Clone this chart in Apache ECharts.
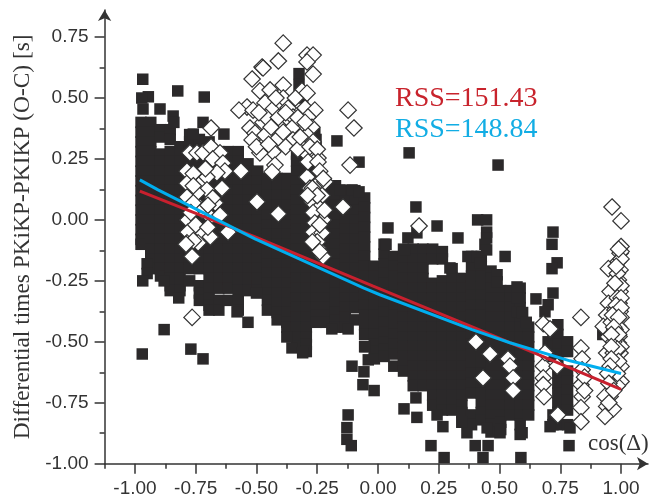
<!DOCTYPE html>
<html>
<head>
<meta charset="utf-8">
<style>html,body{margin:0;padding:0;background:#fff}#c{width:649px;height:500px}</style>
<script src="https://cdn.jsdelivr.net/npm/echarts@6/dist/echarts.min.js"></script>
</head>
<body>
<div id="c"></div>
<script>
const xMajor = [-1,-0.75,-0.5,-0.25,0,0.25,0.5,0.75,1];
const xMinor = [-1.125,-0.875,-0.625,-0.375,-0.125,0.125,0.375,0.625,0.875];
const yMajor = [-1,-0.75,-0.5,-0.25,0,0.25,0.5,0.75];
const yMinor = [-0.875,-0.625,-0.375,-0.125,0.125,0.375,0.625];
const yTitle = 'Differential times PKiKP-PKIKP (O-C) [s]';
const xTitle = 'cos(Δ)';
const rssRed = 'RSS=151.43';
const rssBlue = 'RSS=148.84';

const denseX = [-.975,-.935,-.895,-.855,-.815,-.775,-.735,-.695,-.655,-.615,-.575,-.535,-.495,-.455,-.415,-.375,-.335,-.295,-.255,-.215,-.175,-.135,-.095,-.055,-.015,.025,.065,.105,.145,.185,.225,.265,.305,.345,.385,.425,.465,.505,.545,.585,.62,.70,.72,.74,.78];
const denseY = [
[.40,.36,.32,.28,.24,.20,.16,.12,.08,.04,0,-.04,-.08,-.10],
[.40,.36,.32,.28,.24,.20,.16,.12,.08,.04,0,-.04,-.08,-.12,-.16,-.20],
[.37,.34,.27,.24,.20,.16,.12,.08,.04,0,-.04,-.08,-.12,-.16,-.20,-.23],
[.37,.33,.28,.24,.20,.16,.12,.08,.04,0,-.04,-.08,-.12,-.16,-.20,-.24,-.27,-.29],
[.30,.28,.24,.20,.16,.12,.08,.04,0,-.04,-.08,-.12,-.16,-.20,-.24,-.27,-.29],
[.35,.32,.28,.24,.20,.16,.12,.08,.04,0,-.04,-.08,-.12,-.16,-.20,-.25],
[.33,.29,.24,.20,.16,.12,.08,.04,0,-.04,-.08,-.12,-.16,-.20,-.27,-.30,-.33],
[.32,.28,.24,.20,.16,.12,.08,.04,0,-.04,-.08,-.12,-.16,-.20,-.24,-.28,-.32,-.35,-.37],
[.28,.24,.20,.16,.12,.08,.04,0,-.04,-.08,-.12,-.16,-.20,-.24,-.28,-.33,-.37],
[.28,.24,.20,.16,.12,.08,.04,0,-.04,-.08,-.12,-.16,-.20,-.24,-.28,-.33],
[.28,.24,.20,.16,.12,.08,.04,0,-.04,-.08,-.12,-.16,-.20,-.24,-.27,-.29,-.33,-.37],
[.23,.20,.16,.12,.08,.04,0,-.04,-.08,-.12,-.16,-.20,-.24,-.27,-.29],
[.20,.16,.12,.08,.04,0,-.04,-.08,-.12,-.16,-.20,-.24,-.27,-.29],
[.17,.14,.10,.06,.02,-.02,-.06,-.10,-.14,-.18,-.22,-.26,-.30,-.33,-.37],
[.17,.14,.10,.06,.02,-.02,-.06,-.10,-.14,-.18,-.22,-.26,-.30,-.34,-.38,-.41],
[.17,.14,.10,.06,.02,-.02,-.06,-.10,-.14,-.18,-.22,-.26,-.30,-.34,-.38,-.42,-.44],
[.27,.24,.20,.16,.12,.08,.04,0,-.04,-.08,-.12,-.16,-.20,-.24,-.28,-.32,-.36,-.40,-.44,-.48,-.52],
[.27,.24,.20,.16,.12,.08,.04,0,-.04,-.08,-.12,-.16,-.20,-.24,-.28,-.32,-.36,-.40,-.44,-.48,-.51,-.54],
[.33,.29,.24,.20,.16,.12,.08,.04,0,-.04,-.08,-.12,-.16,-.20,-.24,-.28,-.32,-.36,-.39,-.42],
[.15,.12,.08,.04,0,-.04,-.08,-.12,-.16,-.20,-.24,-.28,-.32,-.36,-.39,-.42],
[.14,.10,.06,.02,-.02,-.06,-.10,-.14,-.18,-.22,-.26,-.30,-.34,-.38,-.41,-.44],
[.12,.08,.04,0,-.04,-.08,-.12,-.16,-.20,-.24,-.28,-.32,-.36,-.40,-.44],
[.12,.08,.04,0,-.04,-.08,-.12,-.16,-.20,-.24,-.28,-.32,-.36,-.41],
[.09,.05,.01,-.03,-.07,-.11,-.15,-.19,-.23,-.27,-.31,-.35,-.39,-.43,-.47,-.52],
[-.19,-.23,-.27,-.31,-.35,-.39,-.43,-.47,-.51,-.54,-.57],
[-.10,-.14,-.18,-.22,-.26,-.30,-.34,-.38,-.42,-.46,-.50,-.53,-.56],
[-.15,-.19,-.23,-.27,-.31,-.35,-.39,-.43,-.47,-.51,-.55,-.60],
[-.12,-.16,-.20,-.24,-.28,-.32,-.36,-.40,-.44,-.48,-.52,-.56,-.59,-.62],
[-.12,-.16,-.20,-.24,-.28,-.32,-.36,-.40,-.44,-.48,-.52,-.56,-.60,-.64,-.68],
[-.12,-.16,-.20,-.24,-.28,-.32,-.36,-.40,-.44,-.48,-.52,-.56,-.60,-.64,-.68],
[-.12,-.16,-.26,-.28,-.32,-.36,-.40,-.44,-.48,-.52,-.56,-.60,-.64,-.68,-.72,-.76],
[-.13,-.16,-.25,-.28,-.32,-.36,-.40,-.44,-.48,-.52,-.56,-.60,-.64,-.68,-.72,-.75,-.78],
[-.20,-.24,-.28,-.32,-.36,-.40,-.44,-.48,-.52,-.56,-.60,-.64,-.68,-.72,-.75,-.78],
[-.24,-.28,-.32,-.36,-.40,-.44,-.48,-.52,-.56,-.60,-.64,-.68,-.72,-.76,-.79,-.83],
[-.15,-.19,-.23,-.27,-.31,-.35,-.39,-.43,-.47,-.51,-.55,-.59,-.63,-.67,-.71,-.80,-.84],
[-.15,-.19,-.23,-.27,-.31,-.35,-.39,-.43,-.47,-.51,-.55,-.59,-.63,-.67,-.71,-.75,-.79,-.82],
[-.21,-.24,-.28,-.32,-.36,-.40,-.44,-.48,-.52,-.56,-.60,-.64,-.68,-.72,-.76,-.80,-.84,-.87],
[-.29,-.32,-.36,-.40,-.44,-.48,-.52,-.56,-.60,-.64,-.68,-.72,-.76,-.80,-.83,-.86],
[-.29,-.32,-.36,-.40,-.44,-.48,-.52,-.56,-.60,-.64,-.68,-.72,-.76,-.80],
[-.28,-.32,-.36,-.40,-.44,-.48,-.52,-.56,-.60,-.64,-.68,-.72,-.76,-.80,-.84,-.88],
[-.44,-.48,-.52,-.56,-.60,-.64,-.68,-.72,-.76,-.80],
[-.50,-.54],
[-.44,-.48,-.52,-.56,-.80,-.84],
[-.43,-.47,-.51,-.55,-.59,-.63,-.67,-.71,-.75,-.79,-.84],
[-.50,-.54,-.62,-.66,-.70,-.74,-.78,-.84]
];
const looseSquares = [
[-.968,.577],[-.945,.505],[-.972,.50],[-.824,.529],[-.715,.504],[-.897,.455],[-.967,.455],[-.843,.426],[-.84,.40],[-.72,.40],[-.634,.352],[-.76,.352],
[-.95,-.18],[-.95,-.22],[-.968,-.25],[-.88,-.25],[-.82,-.32],[-.58,-.377],[-.535,-.42],[-.50,-.30],
[-.77,-.53],[-.72,-.57],[-.88,-.45],[-.97,-.55],
[-.325,.60],[-.325,.555],[-.31,.50],[-.26,.355],[-.169,.324],[-.078,.237],
[-.156,.123],[-.107,.123],[-.078,.115],
[.128,.275],[.494,.225],[.156,.053],[.041,-.033],[.243,-.025],[.329,-.074],[.033,-.10],[.41,0],[.447,0],[.447,-.05],[.447,-.074],[.44,-.10],[.72,-.05],[.716,-.10],[.123,-.074],[.16,-.053],[.11,-.123],[.296,-.197],[.37,-.15],[.407,-.15],[.447,-.123],[.42,-.176],[.49,-.225],[.49,-.254],[.523,-.15],
[.572,-.275],[.572,-.32],[.572,-.377],[.65,-.324],[.72,-.30],[.70,-.348],[.687,-.377],[.737,-.176],[.716,-.20],[.595,-.38],[.61,-.42],
[-.19,-.447],[-.123,-.447],[-.375,-.48],[-.354,-.525],[-.31,-.545],[-.053,-.52],[-.04,-.574],
[-.107,-.60],[-.058,-.623],[-.062,-.676],[-.016,-.70],[-.123,-.80],[-.128,-.852],[-.128,-.90],[-.11,-.926],
[.218,-.926],[.272,-.975],[.40,-.926],[.453,-.926],[.432,-.975],[.588,-.975],[.786,-.926],[.107,-.775],[.156,-.73],[.16,-.81],[.243,-.80],[.267,-.848],[.366,-.873],[.346,-.828],[.502,-.873],[.449,-.853],[.593,-.873],[.708,-.848],[.79,-.853],[.925,-.47]
];
const openDiamonds = [
[-.687,.377],[-.774,.275],[-.745,.275],[-.72,.275],[-.687,.30],[-.65,.275],[-.68,.25],[-.638,.233],[-.786,.20],[-.63,.20],[-.564,.20],[-.663,.193],[-.724,.156],[-.704,.176],[-.786,.15],[-.642,.13],[-.704,.123],[-.745,.11],[-.786,.094],[-.67,.07],[-.733,.053],[-.498,.074],[-.41,.025],[-.782,0],[-.69,.012],[-.724,.04],[-.617,-.05],[-.724,-.05],[-.782,-.05],[-.69,-.07],[-.786,-.094],[-.74,-.094],[-.765,-.15],[-.76,-.085],[-.79,-.10],[-.765,-.40],
[-.76,.19],[-.71,.21],[-.76,.14],[-.68,.09],[-.76,.07],[-.70,.06],[-.77,.03],[-.75,-.02],[-.70,-.03],[-.65,.02],
[-.39,.725],[-.41,.652],[-.477,.627],[-.473,.623],[-.518,.578],[-.292,.676],[-.267,.676],[-.292,.648],[-.267,.598],[-.486,.529],[-.444,.533],[-.39,.553],[-.313,.529],[-.292,.52],[-.539,.463],[-.572,.45],[-.514,.45],[-.465,.48],[-.39,.50],[-.436,.45],[-.37,.459],[-.30,.459],[-.26,.45],[-.473,.40],[-.288,.422],[-.35,.422],[-.527,.377],[-.403,.38],[-.354,.377],[-.272,.38],[-.506,.356],[-.465,.348],[-.292,.348],[-.41,.336],[-.35,.328],[-.267,.32],[-.518,.328],[-.432,.28],[-.486,.275],[-.288,.266],[-.247,.254],[-.424,.225],[-.436,.197],
[-.50,.30],[-.45,.31],[-.38,.30],[-.33,.29],[-.46,.42],[-.41,.42],[-.33,.42],[-.44,.38],[-.38,.44],[-.30,.40],[-.32,.34],[-.28,.30],[-.25,.29],[-.34,.50],[-.42,.50],[-.49,.44],[-.39,.36],
[-.292,.176],[-.239,.156],[-.218,.156],[-.28,.13],[-.23,.10],[-.272,.074],[-.243,.05],[-.267,.03],[-.226,0],[-.26,-.012],[-.267,-.05],[-.23,-.053],[-.247,-.115],[-.226,-.15],[-.288,.238],[-.247,.238],[-.115,.225],[-.144,.053],[-.25,-.09],[-.24,-.02],
[-.24,.20],[-.225,.17],[-.27,.13],[-.25,.10],[-.29,.10],[-.22,.04],[-.27,-.09],[-.24,-.13],
[-.123,.45],[-.099,.377],[.169,-.025],
[.403,-.50],[.461,-.55],[.535,-.57],[.543,-.60],[.432,-.648],[.556,-.648],[.556,-.70],[.68,-.426],[.708,-.447],[.68,-.60],[.737,-.60],[.68,-.648],[.68,-.676],[.683,-.725],[.74,-.80],[.687,-.545],
[.835,-.40],[.835,-.525],[.84,-.57],[.84,-.615],[.835,-.676],[.84,-.725],[.835,-.77],[.835,-.828],[.85,-.645],[.85,-.70],
[.963,.053],[1.0,-.004],[1.0,-.109],[.996,-.137],[.989,-.171],[.996,-.205],[.989,-.246],[.996,-.294],[.992,-.342],[.996,-.376],[.989,-.437],[.992,-.478],[.989,-.505],[.996,-.546],[.982,-.574],[1.0,-.601],[.968,-.595],[1.0,-.663],[.968,-.697],[.955,-.724],
[.948,-.20],[.955,-.294],[.948,-.342],[.941,-.39],[.927,-.437],[.948,-.48],[.941,-.546],[.968,-.546],[.955,-.64],[.934,-.724],[.941,-.765],[.968,-.775],[.934,-.806],
[1.0,-.13],[1.0,-.16],[.985,-.22],[1.0,-.27],[.985,-.32],[1.0,-.40],[.98,-.41],[1.0,-.45],[.975,-.45],[1.0,-.52],[.97,-.50],[.96,-.42],[.975,-.37],[.97,-.62],[.985,-.68],
[.99,-.12],[.98,-.19],[.975,-.26],[1.0,-.32],[.98,-.35],[1.0,-.36],[.965,-.39],[.99,-.40],[.97,-.44],[.99,-.47],[.96,-.47],[.985,-.53],[.96,-.52],[.99,-.58],[.96,-.57],[.955,-.60],[.985,-.63],[.945,-.63],[.95,-.67],[.97,-.70],[.95,-.75]
];
const redLineX = [-.98,-.506,-.02,.41,.79,1.0];
const redLineY = [.118,-.07,-.272,-.448,-.607,-.695];
const blueLineX = [-.98,-.905,-.506,-.06,.008,.387,.543,.79,1.0];
const blueLineY = [.164,.123,-.078,-.279,-.307,-.45,-.504,-.578,-.63];

const zip = (a,b)=>a.map((v,i)=>[v,b[i]]);
const black = [];
denseX.forEach((x,i)=>denseY[i].forEach(y=>black.push([x,y])));
looseSquares.forEach(p=>black.push(p));

const ink = '#333333';
const fix2 = v=>Number(v).toFixed(2);
const xMin=-1.125,xMax=1.111,yMin=-1,yMax=0.861;
const chart = echarts.init(document.getElementById('c'),null,{renderer:'canvas'});
chart.setOption({
  animation:false,
  backgroundColor:'#fff',
  grid:{left:104.6,right:1,top:10,bottom:36.3,containLabel:false,outerBoundsMode:'none'},
  xAxis:[
    {type:'value',position:'bottom',min:xMin,max:xMax,splitLine:{show:false},
     axisLine:{show:true,onZero:false,lineStyle:{color:ink,width:1.5},symbol:['none','arrow'],symbolSize:[10,11],symbolOffset:[0,0]},
     axisTick:{show:true,customValues:xMajor,length:10,lineStyle:{color:ink,width:1.5}},
     axisLabel:{show:true,customValues:xMajor,formatter:fix2,margin:16,fontFamily:'Liberation Sans',fontSize:19,color:ink}},
    {type:'value',position:'bottom',min:xMin,max:xMax,splitLine:{show:false},
     axisLine:{show:false,onZero:false},
     axisTick:{show:true,customValues:xMinor,length:5,lineStyle:{color:ink,width:1.5}},
     axisLabel:{show:false}}
  ],
  yAxis:[
    {type:'value',position:'left',min:yMin,max:yMax,splitLine:{show:false},
     name:yTitle,nameLocation:'middle',nameGap:70,nameRotate:90,
     nameTextStyle:{fontFamily:'Liberation Serif',fontSize:23.4,color:ink},
     axisLine:{show:true,onZero:false,lineStyle:{color:ink,width:1.5},symbol:['none','arrow'],symbolSize:[10,11],symbolOffset:[0,0]},
     axisTick:{show:true,customValues:yMajor,length:10,lineStyle:{color:ink,width:1.5}},
     axisLabel:{show:true,customValues:yMajor,formatter:fix2,margin:16,fontFamily:'Liberation Sans',fontSize:19,color:ink}},
    {type:'value',position:'left',min:yMin,max:yMax,splitLine:{show:false},
     axisLine:{show:false,onZero:false},
     axisTick:{show:true,customValues:yMinor,length:5,lineStyle:{color:ink,width:1.5}},
     axisLabel:{show:false}}
  ],
  series:[
    {type:'scatter',data:black,symbol:'rect',symbolSize:11.5,clip:false,silent:true,
     itemStyle:{color:'#2b292a',opacity:1},z:2},
    {type:'scatter',data:openDiamonds,symbol:'diamond',symbolSize:16.5,clip:false,silent:true,
     itemStyle:{color:'#ffffff',borderColor:'#333333',borderWidth:1.2,opacity:1},z:3},
    {type:'line',data:zip(redLineX,redLineY),showSymbol:false,clip:false,silent:true,
     lineStyle:{color:'#c8202e',width:3},z:4},
    {type:'line',data:zip(blueLineX,blueLineY),showSymbol:false,clip:false,silent:true,
     lineStyle:{color:'#00aeef',width:3},z:5}
  ],
  graphic:[
    {type:'text',left:395,top:85,z:10,style:{text:rssRed,font:'28px "Liberation Serif"',fill:'#c8232c'}},
    {type:'text',left:395,top:116,z:10,style:{text:rssBlue,font:'28px "Liberation Serif"',fill:'#12ade4'}},
    {type:'text',left:588,top:432,z:10,style:{text:xTitle,font:'23px "Liberation Serif"',fill:ink}}
  ]
});
</script>
</body>
</html>
